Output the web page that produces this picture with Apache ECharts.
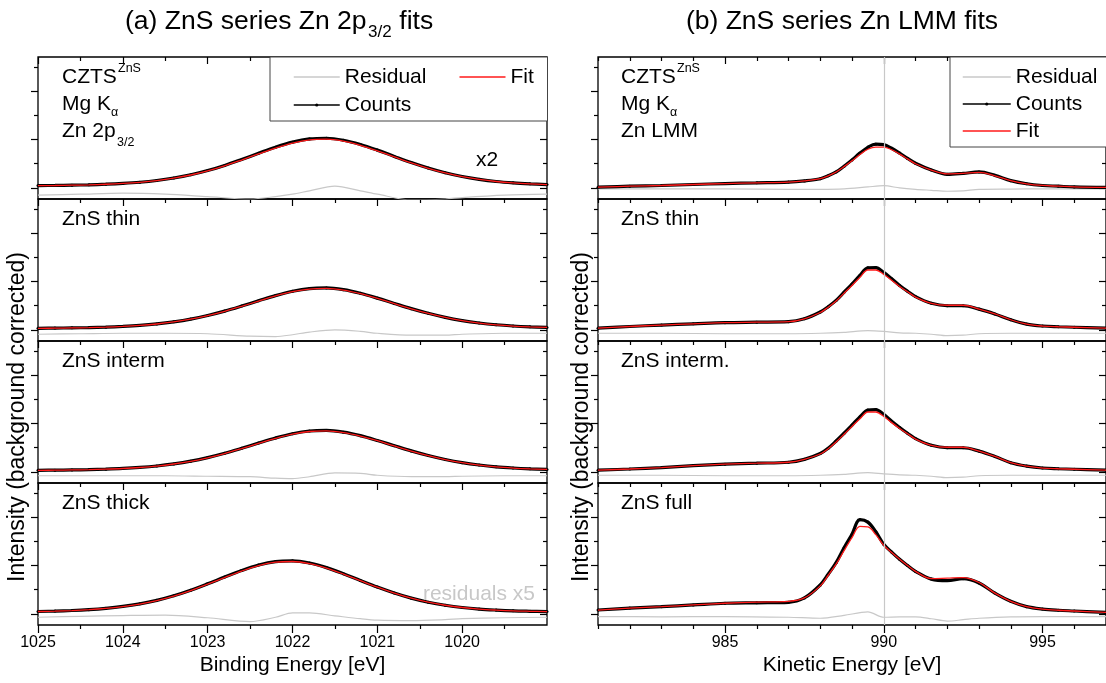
<!DOCTYPE html>
<html><head><meta charset="utf-8">
<script src="https://cdn.jsdelivr.net/npm/echarts@6/dist/echarts.min.js"></script>
<style>html,body{margin:0;padding:0;background:#fff}#c{width:1106px;height:683px}</style>
</head><body><div id="c"></div>
<script>
// ---------- x grids ----------
const bindingEnergy = [1025,1024.8,1024.6,1024.4,1024.2,1024,1023.8,1023.6,1023.4,1023.2,1023,1022.8,1022.6,1022.4,1022.2,1022,1021.8,1021.6,1021.4,1021.2,1021,1020.8,1020.6,1020.4,1020.2,1020,1019.8,1019.6,1019.4,1019.2,1019];
const residBindingEnergy = [1025,1024.5,1024,1023.5,1023,1022.5,1022.2,1022,1021.8,1021.5,1021.2,1021,1020.6,1020.2,1020,1019.5,1019];
const kineticEnergy = [981,982,983,984,985,986,987,987.5,988,988.25,988.5,988.75,989,989.25,989.5,989.75,990,990.25,990.5,990.75,991,991.5,992,992.5,993,993.5,994,994.5,995,995.5,996,997];
const residKineticEnergy = [981,983,985,987,988,988.75,989.5,990,990.5,991,991.5,992,992.5,993,994,995,997];

// ---------- tick values ----------
const beMajorTicks = [1020,1021,1022,1023,1024,1025];
const beMinorTicks = [1019.5,1020.5,1021.5,1022.5,1023.5,1024.5];
const keMajorTicks = [985,990,995];
const keMinorTicks = [981,982,983,984,986,987,988,989,991,992,993,994,996];
const yMajorTicks = [0,1,2];
const yMinorTicks = [0.5,1.5,2.5];

// ---------- (a) Zn 2p3/2 ----------
const cztsZn2pCounts = [0.047,0.051,0.057,0.064,0.076,0.093,0.117,0.153,0.204,0.271,0.359,0.465,0.588,0.717,0.842,0.947,1.014,1.028,0.987,0.899,0.782,0.652,0.525,0.411,0.313,0.235,0.177,0.133,0.104,0.084,0.069];
const cztsZn2pFit = [0.046,0.050,0.056,0.063,0.075,0.092,0.116,0.151,0.201,0.267,0.353,0.457,0.577,0.703,0.825,0.928,0.994,1.008,0.968,0.882,0.768,0.641,0.517,0.405,0.309,0.232,0.175,0.132,0.103,0.083,0.068];
const cztsZn2pResidual = [-0.15,-0.13,-0.11,-0.13,-0.18,-0.23,-0.18,-0.13,-0.06,0.035,-0.06,-0.13,-0.25,-0.23,-0.2,-0.15,-0.13];

const thinZn2pCounts = [0.033,0.037,0.042,0.048,0.057,0.072,0.093,0.124,0.167,0.224,0.299,0.389,0.493,0.603,0.710,0.799,0.856,0.868,0.833,0.758,0.658,0.548,0.440,0.343,0.259,0.193,0.143,0.106,0.081,0.064,0.052];
const thinZn2pFit = [0.032,0.036,0.041,0.047,0.056,0.071,0.092,0.122,0.165,0.221,0.295,0.384,0.487,0.596,0.702,0.790,0.846,0.858,0.824,0.750,0.652,0.543,0.437,0.341,0.258,0.192,0.142,0.105,0.080,0.063,0.051];
const thinZn2pResidual = [-0.09,-0.08,-0.07,-0.07,-0.08,-0.13,-0.14,-0.1,-0.045,0,-0.03,-0.07,-0.11,-0.11,-0.09,-0.07,-0.07];

const intermZn2pCounts = [0.033,0.036,0.041,0.047,0.057,0.071,0.092,0.122,0.165,0.222,0.296,0.385,0.488,0.597,0.702,0.790,0.846,0.858,0.823,0.750,0.651,0.542,0.435,0.339,0.257,0.191,0.142,0.105,0.081,0.064,0.052];
const intermZn2pFit = [0.032,0.035,0.040,0.046,0.056,0.070,0.091,0.120,0.163,0.219,0.292,0.380,0.482,0.590,0.694,0.781,0.836,0.848,0.814,0.742,0.645,0.537,0.432,0.337,0.256,0.190,0.141,0.104,0.080,0.063,0.051];
const intermZn2pResidual = [-0.08,-0.08,-0.08,-0.08,-0.09,-0.1,-0.13,-0.14,-0.1,-0.02,-0.03,-0.07,-0.1,-0.1,-0.09,-0.08,-0.08];

const thickZn2pCounts = [0.050,0.058,0.070,0.088,0.115,0.154,0.208,0.281,0.376,0.491,0.623,0.762,0.897,1.011,1.083,1.098,1.053,0.958,0.832,0.692,0.555,0.432,0.326,0.242,0.179,0.132,0.100,0.079,0.063,0.054,0.047];
const thickZn2pFit = [0.049,0.057,0.069,0.087,0.113,0.151,0.204,0.276,0.370,0.484,0.615,0.752,0.886,0.999,1.070,1.085,1.041,0.948,0.825,0.688,0.553,0.431,0.326,0.242,0.179,0.132,0.100,0.079,0.063,0.054,0.047];
const thickZn2pResidual = [-0.07,-0.05,-0.035,-0.025,-0.08,-0.16,-0.07,0.02,0.02,-0.04,-0.1,-0.13,-0.14,-0.12,-0.1,-0.08,-0.07];

// ---------- (b) Zn LMM ----------
const cztsLmmCounts = [0.015,0.035,0.05,0.07,0.09,0.105,0.12,0.145,0.19,0.25,0.33,0.45,0.58,0.72,0.84,0.905,0.895,0.82,0.72,0.61,0.51,0.37,0.28,0.30,0.33,0.26,0.15,0.085,0.05,0.035,0.02,0.01];
const cztsLmmFit = [0.015,0.035,0.05,0.07,0.09,0.105,0.12,0.145,0.19,0.25,0.33,0.44,0.56,0.69,0.80,0.845,0.845,0.79,0.70,0.60,0.50,0.37,0.29,0.30,0.32,0.25,0.15,0.085,0.05,0.035,0.02,0.01];
const cztsLmmResidual = [-0.02,-0.02,-0.02,-0.03,-0.03,-0.02,0.02,0.045,0.0,-0.03,-0.05,-0.07,-0.06,-0.03,-0.025,-0.02,-0.02];

const thinLmmCounts = [0.035,0.07,0.10,0.125,0.15,0.16,0.17,0.23,0.37,0.48,0.61,0.78,0.95,1.13,1.285,1.29,1.19,1.06,0.92,0.80,0.69,0.55,0.50,0.50,0.43,0.33,0.21,0.12,0.08,0.065,0.055,0.035];
const thinLmmFit = [0.035,0.07,0.10,0.125,0.15,0.16,0.17,0.23,0.36,0.47,0.60,0.76,0.92,1.09,1.24,1.24,1.15,1.03,0.90,0.79,0.68,0.55,0.51,0.51,0.43,0.33,0.21,0.12,0.08,0.065,0.055,0.035];
const thinLmmResidual = [-0.07,-0.07,-0.08,-0.08,-0.07,-0.05,-0.015,-0.03,-0.06,-0.07,-0.09,-0.12,-0.11,-0.08,-0.07,-0.07,-0.07];

const intermLmmCounts = [0.035,0.06,0.09,0.13,0.16,0.18,0.20,0.26,0.38,0.49,0.64,0.80,0.97,1.14,1.28,1.29,1.19,1.05,0.92,0.80,0.69,0.55,0.50,0.50,0.43,0.32,0.19,0.12,0.08,0.065,0.055,0.035];
const intermLmmFit = [0.035,0.06,0.09,0.13,0.16,0.18,0.20,0.26,0.37,0.48,0.62,0.78,0.94,1.10,1.24,1.24,1.15,1.02,0.90,0.79,0.68,0.55,0.51,0.51,0.43,0.32,0.19,0.12,0.08,0.065,0.055,0.035];
const intermLmmResidual = [-0.07,-0.07,-0.08,-0.08,-0.07,-0.05,-0.015,-0.04,-0.06,-0.07,-0.09,-0.12,-0.11,-0.08,-0.07,-0.07,-0.07];

const fullLmmCounts = [0.08,0.12,0.15,0.185,0.22,0.23,0.24,0.33,0.60,0.82,1.06,1.37,1.65,1.95,1.90,1.70,1.44,1.28,1.13,1.00,0.88,0.72,0.69,0.73,0.64,0.43,0.26,0.15,0.10,0.075,0.06,0.03];
const fullLmmFit = [0.08,0.12,0.15,0.185,0.22,0.245,0.26,0.33,0.58,0.80,1.03,1.31,1.58,1.81,1.80,1.64,1.42,1.27,1.13,1.00,0.88,0.73,0.74,0.75,0.65,0.43,0.26,0.15,0.10,0.075,0.06,0.03];
const fullLmmResidual = [-0.055,-0.06,-0.055,-0.07,-0.09,-0.03,0.04,-0.07,-0.06,-0.06,-0.1,-0.15,-0.12,-0.09,-0.06,-0.055,-0.055];

// ---------- layout ----------
const FONT = '"Liberation Sans", Arial, Helvetica, sans-serif';
const gridTops = [57, 199, 341, 483];
const gridH = 142;
const gridW = 509;
const sideLeft = { L: 38, R: 598 };
const Y_MIN = -0.23, Y_MAX = 2.71;

const panels = [
  { side: 'L', row: 0, counts: cztsZn2pCounts, fit: cztsZn2pFit, resid: cztsZn2pResidual },
  { side: 'L', row: 1, counts: thinZn2pCounts, fit: thinZn2pFit, resid: thinZn2pResidual },
  { side: 'L', row: 2, counts: intermZn2pCounts, fit: intermZn2pFit, resid: intermZn2pResidual },
  { side: 'L', row: 3, counts: thickZn2pCounts, fit: thickZn2pFit, resid: thickZn2pResidual },
  { side: 'R', row: 0, counts: cztsLmmCounts, fit: cztsLmmFit, resid: cztsLmmResidual },
  { side: 'R', row: 1, counts: thinLmmCounts, fit: thinLmmFit, resid: thinLmmResidual },
  { side: 'R', row: 2, counts: intermLmmCounts, fit: intermLmmFit, resid: intermLmmResidual },
  { side: 'R', row: 3, counts: fullLmmCounts, fit: fullLmmFit, resid: fullLmmResidual }
];

const pairs = (xs, ys) => xs.map((x, i) => [x, ys[i]]);
const tickLine = { color: '#000', width: 1.2 };
const noLine = { show: false, onZero: false };

const grids = [], xAxes = [], yAxes = [], series = [];
panels.forEach((p, g) => {
  const isL = p.side === 'L';
  grids.push({ left: sideLeft[p.side], top: gridTops[p.row], width: gridW, height: gridH,
    show: true, borderColor: '#000', borderWidth: 1.3, backgroundColor: 'transparent' });
  const majors = isL ? beMajorTicks : keMajorTicks;
  const minors = isL ? beMinorTicks : keMinorTicks;
  const xBase = { gridIndex: g, type: 'value', min: isL ? 1019 : 981, max: isL ? 1025 : 997,
    inverse: isL, axisLine: noLine, splitLine: { show: false }, axisLabel: { show: false } };
  const xIdx = xAxes.length;
  xAxes.push(Object.assign({}, xBase, { position: 'top',
    axisTick: { show: true, inside: true, length: 7, customValues: majors, lineStyle: tickLine } }));
  xAxes.push(Object.assign({}, xBase, { position: 'top',
    axisTick: { show: true, inside: true, length: 4, customValues: minors, lineStyle: tickLine } }));
  if (p.row === 3) {
    xAxes.push(Object.assign({}, xBase, { position: 'bottom',
      axisTick: { show: true, inside: false, length: 8, customValues: majors, lineStyle: tickLine },
      axisLabel: { show: true, customValues: majors, formatter: v => String(v), fontSize: 16,
        color: '#000', fontFamily: FONT, margin: 10 },
      name: isL ? 'Binding Energy [eV]' : 'Kinetic Energy [eV]', nameLocation: 'middle', nameGap: 30,
      nameTextStyle: { fontSize: 21, color: '#000', fontFamily: FONT } }));
    xAxes.push(Object.assign({}, xBase, { position: 'bottom',
      axisTick: { show: true, inside: false, length: 4, customValues: minors, lineStyle: tickLine } }));
  }
  const yBase = { gridIndex: g, type: 'value', min: Y_MIN, max: Y_MAX,
    axisLine: noLine, splitLine: { show: false }, axisLabel: { show: false } };
  const yIdx = yAxes.length;
  yAxes.push(Object.assign({}, yBase, { position: 'left',
    axisTick: { show: true, inside: false, length: 7, customValues: yMajorTicks, lineStyle: tickLine } }));
  yAxes.push(Object.assign({}, yBase, { position: 'left',
    axisTick: { show: true, inside: false, length: 4, customValues: yMinorTicks, lineStyle: tickLine } }));
  yAxes.push(Object.assign({}, yBase, { position: 'right',
    axisTick: { show: true, inside: true, length: 7, customValues: yMajorTicks, lineStyle: tickLine } }));
  yAxes.push(Object.assign({}, yBase, { position: 'right',
    axisTick: { show: true, inside: true, length: 4, customValues: yMinorTicks, lineStyle: tickLine } }));

  const xs = isL ? bindingEnergy : kineticEnergy;
  const rxs = isL ? residBindingEnergy : residKineticEnergy;
  const resid = { type: 'line', name: 'Residual', xAxisIndex: xIdx, yAxisIndex: yIdx,
    data: pairs(rxs, p.resid), smooth: 0.3, showSymbol: false, symbol: 'none',
    lineStyle: { color: '#c8c8c8', width: 1.2 }, itemStyle: { color: '#c8c8c8' }, z: 1, animation: false };
  if (!isL) {
    resid.markLine = { silent: true, symbol: ['none', 'none'], label: { show: false },
      lineStyle: { color: '#c8c8c8', width: 1.2, type: 'solid' }, data: [{ xAxis: 990 }], animation: false };
  }
  series.push(resid);
  series.push({ type: 'line', name: 'Counts', xAxisIndex: xIdx, yAxisIndex: yIdx,
    data: pairs(xs, p.counts), smooth: 0.35, showSymbol: true, symbol: 'circle', symbolSize: 3,
    lineStyle: { color: '#000', width: 3.2 }, itemStyle: { color: '#000' }, z: 2, animation: false });
  series.push({ type: 'line', name: 'Fit', xAxisIndex: xIdx, yAxisIndex: yIdx,
    data: pairs(xs, p.fit), smooth: 0.35, showSymbol: false, symbol: 'none',
    lineStyle: { color: '#ff1a1a', width: 1.3 }, itemStyle: { color: '#ff1a1a' }, z: 3, animation: false });
});

const legendText = { fontSize: 21, color: '#000', fontFamily: FONT, lineHeight: 22 };
const hideDot = { opacity: 0 };
const legends = [
  { left: 270, top: 57, orient: 'horizontal', width: 300, itemGap: 6, itemWidth: 46, itemHeight: 4,
    padding: [9, 9, 5, 23], borderColor: '#444', borderWidth: 1, backgroundColor: '#fff',
    textStyle: legendText, lineStyle: { width: 1.5 }, selectedMode: false,
    data: [ { name: 'Residual', textStyle: { width: 108 }, itemStyle: hideDot },
            { name: 'Fit', textStyle: { width: 28 }, itemStyle: hideDot },
            { name: 'Counts', textStyle: { width: 108 } } ] },
  { left: 950, top: 57, orient: 'vertical', itemGap: 5, itemWidth: 48, itemHeight: 4,
    padding: [9, 12, 5, 12], borderColor: '#444', borderWidth: 1, backgroundColor: '#fff',
    textStyle: Object.assign({}, legendText, { width: 150 }), lineStyle: { width: 1.5 }, selectedMode: false,
    data: [ { name: 'Residual', itemStyle: hideDot }, { name: 'Counts' }, { name: 'Fit', itemStyle: hideDot } ] }
];

const t = (x, y, text, extra) => ({ type: 'text', x: x, y: y, z: 100,
  style: Object.assign({ text: text, fontSize: 21, fontFamily: FONT, fill: '#000', align: 'left', verticalAlign: 'middle' }, extra || {}) });
const small = { fontSize: 12.5 };
const graphics = [
  t(125, 22, '(a) ZnS series Zn 2p', { fontSize: 26.5 }),
  t(368, 32, '3/2', { fontSize: 17 }),
  t(392, 22, ' fits', { fontSize: 26.5 }),
  t(842, 22, '(b) ZnS series Zn LMM fits', { align: 'center', fontSize: 26.5 }),
  t(18, 417, 'Intensity (background corrected)', { align: 'center', fontSize: 23 }),
  t(582, 417, 'Intensity (background corrected)', { align: 'center', fontSize: 23 })
];
graphics[4].rotation = Math.PI / 2;
graphics[5].rotation = Math.PI / 2;
[['L', 62], ['R', 621]].forEach(([side, x]) => {
  graphics.push(t(x, 77, 'CZTS'), t(x + 56, 69, 'ZnS', small));
  graphics.push(t(x, 104, 'Mg K'), t(x + 49, 113, 'α', small));
  if (side === 'L') graphics.push(t(x, 131, 'Zn 2p'), t(x + 55, 143, '3/2', small));
  else graphics.push(t(x, 131, 'Zn LMM'));
});
graphics.push(t(62, 219, 'ZnS thin'), t(62, 361, 'ZnS interm'), t(62, 503, 'ZnS thick'));
graphics.push(t(621, 219, 'ZnS thin'), t(621, 361, 'ZnS interm.'), t(621, 503, 'ZnS full'));
graphics.push(t(476, 160, 'x2'));
graphics.push(t(535, 594, 'residuals x5', { align: 'right', fill: '#c8c8c8' }));

const chart = echarts.init(document.getElementById('c'), null, { renderer: 'canvas' });
chart.setOption({
  animation: false,
  backgroundColor: '#fff',
  textStyle: { fontFamily: FONT },
  grid: grids, xAxis: xAxes, yAxis: yAxes, series: series,
  legend: legends,
  graphic: graphics
});
</script></body></html>
